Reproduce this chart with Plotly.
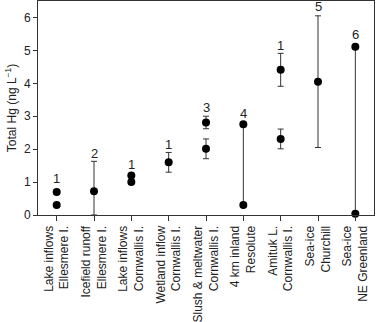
import plotly.graph_objects as go

categories = [
    "Lake inflows<br>Ellesmere I.",
    "Icefield runoff<br>Ellesmere I.",
    "Lake inflows<br>Cornwallis I.",
    "Wetland inflow<br>Cornwallis I.",
    "Slush & meltwater<br>Cornwallis I.",
    "4 km inland<br>Resolute",
    "Amituk L.<br>Cornwallis I.",
    "Sea-ice<br>Churchill",
    "Sea-ice<br>NE Greenland",
]

# individual points (category index, value, error plus, error minus)
point_cat = [0, 0, 1, 2, 2, 3, 4, 4, 5, 5, 6, 6, 7, 8, 8]
point_y = [0.70, 0.30, 0.72, 1.20, 1.00, 1.60, 2.81, 2.01, 2.76, 0.30, 4.41, 2.31, 4.05, 5.11, 0.04]
err_plus = [0, 0, 0.91, 0, 0, 0.30, 0.19, 0.30, 0, 0, 0.50, 0.30, 2.00, 0, 0]
err_minus = [0, 0, 0.72, 0, 0, 0.30, 0.19, 0.30, 0, 0, 0.50, 0.30, 2.00, 0, 0]

# ranges drawn as connecting lines
range_cat = [5, 8]
range_low = [0.30, 0.04]
range_high = [2.76, 5.11]

# reference numbers above each site
label_text = ["1", "2", "1", "1", "3", "4", "1", "5", "6"]
label_y = [1.10, 1.88, 1.54, 2.14, 3.27, 3.09, 5.15, 6.33, 5.47]

FONT = "Liberation Sans, Arial, sans-serif"
LINE = "#333333"
TXT = "#222222"

fig = go.Figure()

lx, ly = [], []
for c, lo, hi in zip(range_cat, range_low, range_high):
    lx += [categories[c], categories[c], None]
    ly += [lo, hi, None]
fig.add_trace(go.Scatter(x=lx, y=ly, mode="lines", line=dict(color=LINE, width=1),
                         hoverinfo="skip", cliponaxis=False))

px = [categories[c] for c in point_cat]
show_err = [p > 0 or m > 0 for p, m in zip(err_plus, err_minus)]
ex = [x for x, s in zip(px, show_err) if s]
ey = [y for y, s in zip(point_y, show_err) if s]
ep = [v for v, s in zip(err_plus, show_err) if s]
em = [v for v, s in zip(err_minus, show_err) if s]
fig.add_trace(go.Scatter(x=ex, y=ey, mode="markers", marker=dict(size=1, color="rgba(0,0,0,0)"),
                         error_y=dict(type="data", symmetric=False, array=ep, arrayminus=em,
                                      color=LINE, thickness=1, width=3),
                         cliponaxis=False, hoverinfo="skip"))

fig.add_trace(go.Scatter(x=px, y=point_y, mode="markers",
                         marker=dict(size=8, color="black"), cliponaxis=False))

for c, t, y in zip(categories, label_text, label_y):
    fig.add_annotation(x=c, y=y, text=t, showarrow=False,
                       font=dict(family=FONT, size=13, color=TXT),
                       xanchor="center", yanchor="middle")

fig.update_layout(
    width=376, height=322,
    margin=dict(l=38, r=2, t=1, b=107),
    paper_bgcolor="white", plot_bgcolor="white",
    showlegend=False,
    font=dict(family=FONT, size=12, color=TXT),
)
fig.update_xaxes(
    type="category", categoryorder="array", categoryarray=categories,
    range=[-0.5, 8.5], tickangle=-90, automargin=False,
    showline=True, linecolor=LINE, linewidth=1, mirror=True,
    ticks="outside", ticklen=5, tickcolor=LINE, showgrid=False, zeroline=False,
    tickfont=dict(family=FONT, size=12, color=TXT),
)
fig.update_yaxes(
    range=[0, 6.5], tickvals=[0, 1, 2, 3, 4, 5, 6], automargin=False,
    showline=True, linecolor=LINE, linewidth=1, mirror=True,
    ticks="outside", ticklen=4, tickcolor=LINE, showgrid=False, zeroline=False,
    title=dict(text="Total Hg (ng L<sup>−1</sup>)", font=dict(family=FONT, size=12, color=TXT), standoff=4),
    tickfont=dict(family=FONT, size=12, color=TXT),
)

fig.write_html("out.html", config={"displayModeBar": False},
               post_script="document.body.style.margin='0';")
